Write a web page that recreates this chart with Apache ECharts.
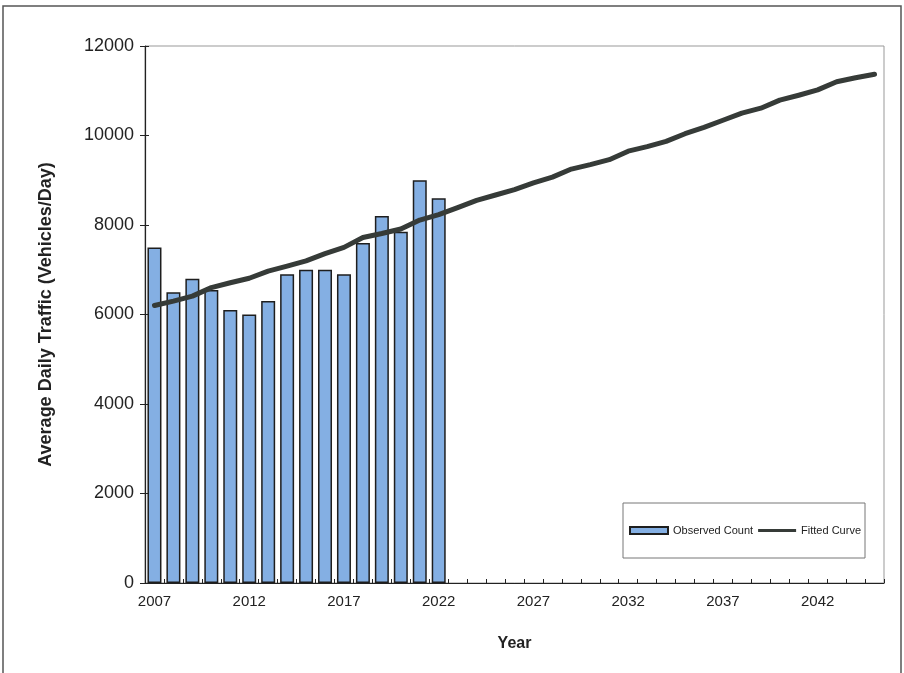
<!DOCTYPE html>
<html>
<head>
<meta charset="utf-8">
<script src="https://cdn.jsdelivr.net/npm/echarts@6/dist/echarts.min.js"></script>
<style>
  html, body { margin: 0; padding: 0; background: #fff; }
  #chart { width: 904px; height: 673px; }
</style>
</head>
<body>
<div id="chart"></div>
<script>
// years on the category axis
const years = [];
for (let y = 2007; y <= 2045; y++) years.push(String(y));

// observed counts 2007-2022
const observedCount = [7500, 6500, 6800, 6550, 6100, 6000, 6300, 6900, 7000, 7000, 6900, 7600, 8200, 7850, 9000, 8600];

// fitted curve 2007-2045
const fittedCurve = [
  6200, 6300, 6410, 6600, 6710, 6810, 6970, 7080, 7200, 7360,
  7500, 7720, 7810, 7910, 8110, 8230, 8390, 8550, 8670, 8790,
  8940, 9070, 9250, 9350, 9460, 9650, 9750, 9870, 10040, 10180,
  10340, 10500, 10610, 10790, 10900, 11020, 11200, 11290, 11370
];

const yTicks = { min: 0, max: 12000, interval: 2000 };

var chart = echarts.init(document.getElementById("chart"));
var font = "'Liberation Sans', Arial, sans-serif";
var ink = "#222";

var option = {
  backgroundColor: "#fff",
  animation: false,
  textStyle: { fontFamily: font, color: ink },
  graphic: [
    {
      type: "rect",
      shape: { x: 3, y: 6, width: 898, height: 700 },
      style: { fill: "none", stroke: "#555", lineWidth: 1.5 },
      z: -1
    }
  ],
  grid: {
    left: 145,
    top: 46,
    right: 20,
    bottom: 90,
    show: true,
    borderColor: "#999",
    borderWidth: 1
  },
  legend: {
    left: 623,
    top: 503,
    padding: [22, 4, 22, 6],
    backgroundColor: "#fff",
    borderColor: "#777",
    borderWidth: 1,
    itemGap: 5,
    itemWidth: 38,
    itemHeight: 7,
    textStyle: { fontSize: 11, color: ink, fontFamily: font },
    data: [
      { name: "Observed Count", icon: "rect" },
      { name: "Fitted Curve", icon: "path://M0,0 L40,0 L40,3 L0,3 Z", itemStyle: { color: "#363b38" } }
    ]
  },
  xAxis: [
    {
      type: "category",
      data: years,
      boundaryGap: true,
      name: "Year",
      nameLocation: "middle",
      nameGap: 53,
      nameTextStyle: { fontSize: 16, fontWeight: "bold", color: ink },
      axisLine: { lineStyle: { color: ink, width: 1.2 } },
      axisTick: { interval: 0, length: 5, lineStyle: { color: ink } },
      axisLabel: { interval: 4, fontSize: 15, color: ink, margin: 11 }
    },
    {
      // inner half of the crossing tick marks
      type: "category",
      data: years,
      position: "bottom",
      boundaryGap: true,
      axisLine: { show: false },
      axisTick: { show: true, interval: 0, inside: true, length: 4, lineStyle: { color: ink } },
      axisLabel: { show: false }
    }
  ],
  yAxis: [
    {
      type: "value",
      min: yTicks.min,
      max: yTicks.max,
      interval: yTicks.interval,
      name: "Average Daily Traffic (Vehicles/Day)",
      nameLocation: "middle",
      nameGap: 90,
      nameTextStyle: { fontSize: 18, fontWeight: "bold", color: ink },
      axisLine: { show: true, lineStyle: { color: ink, width: 1.2 } },
      axisTick: { show: true, length: 5, lineStyle: { color: ink } },
      axisLabel: { fontSize: 18, color: ink, margin: 11, formatter: function (v) { return String(v); } },
      splitLine: { show: false }
    },
    {
      type: "value",
      position: "left",
      min: yTicks.min,
      max: yTicks.max,
      interval: yTicks.interval,
      axisLine: { show: false },
      axisTick: { show: true, inside: true, length: 4, lineStyle: { color: ink } },
      axisLabel: { show: false },
      splitLine: { show: false }
    }
  ],
  series: [
    {
      name: "Observed Count",
      type: "bar",
      data: observedCount,
      barWidth: 14,
      itemStyle: {
        color: "#84afe3",
        borderColor: "#1e1e1e",
        borderWidth: 1.5
      }
    },
    {
      name: "Fitted Curve",
      type: "line",
      data: fittedCurve,
      showSymbol: false,
      symbol: "none",
      lineStyle: { color: "#363b38", width: 5, cap: "round", join: "round" },
      itemStyle: { color: "#363b38" },
      z: 3
    }
  ]
};

chart.setOption(option);
</script>
</body>
</html>
